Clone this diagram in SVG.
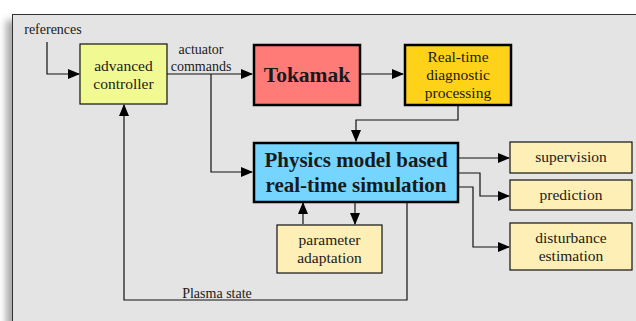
<svg xmlns="http://www.w3.org/2000/svg" width="636" height="321" viewBox="0 0 636 321">
<style>
text{font-family:'Liberation Serif','DejaVu Serif',serif;fill:#1a1a1a;text-anchor:middle}
.n{font-size:15.5px}
.s{font-size:14px}
.b{font-weight:bold}
.box{stroke:#111;stroke-width:1.2}
.thick{stroke:#000;stroke-width:2.5}
.c{fill:none;stroke:#111;stroke-width:1.2}
</style>
<defs>
<marker id="ah" markerWidth="12" markerHeight="10" refX="11" refY="5" orient="auto" markerUnits="userSpaceOnUse">
<path d="M0,0 L12,5 L0,10 Z" fill="#000"/>
</marker>
<filter id="sh" x="-10%" y="-10%" width="120%" height="120%">
<feGaussianBlur stdDeviation="3.5"/>
</filter>
</defs>
<rect x="0" y="0" width="636" height="321" fill="#fff"/>
<rect x="6" y="20" width="640" height="320" fill="#aaa" filter="url(#sh)"/>
<rect x="12.5" y="14.5" width="640" height="320" fill="#e4e4e4" stroke="#333" stroke-width="1"/>
<text x="53" y="34" class="s">references</text>
<text x="201" y="54" class="s">actuator</text>
<text x="201" y="71" class="s">commands</text>
<text x="217" y="298" class="s">Plasma state</text>
<g id="connectors">
<path class="c" d="M47,42 V74 H79" marker-end="url(#ah)"/>
<path class="c" d="M167,74 H252" marker-end="url(#ah)"/>
<path class="c" d="M211,74 V172 H252" marker-end="url(#ah)"/>
<path class="c" d="M361,74 H403" marker-end="url(#ah)"/>
<path class="c" d="M458,106 V120 H356 V141" marker-end="url(#ah)"/>
<path class="c" d="M303,224 V203" marker-end="url(#ah)"/>
<path class="c" d="M355,203 V224" marker-end="url(#ah)"/>
<path class="c" d="M407,203 V300 H124 V105" marker-end="url(#ah)"/>
<path class="c" d="M459,158 H509" marker-end="url(#ah)"/>
<path class="c" d="M459,173 H480 V196 H509" marker-end="url(#ah)"/>
<path class="c" d="M459,187 H473 V247 H509" marker-end="url(#ah)"/>
</g>
<g id="controller">
<rect class="box" x="80" y="44" width="87" height="60" fill="#f1f992"/>
<text x="123.5" y="71" class="n">advanced</text>
<text x="123.5" y="89" class="n">controller</text>
</g>
<g id="tokamak">
<rect class="thick" x="254" y="45" width="106" height="60" fill="#ff7b78"/>
<text x="307" y="82" class="b" font-size="21.5">Tokamak</text>
</g>
<g id="diagnostic">
<rect class="thick" x="405" y="45" width="106" height="60" fill="#ffd21a"/>
<text x="458" y="62" class="n">Real-time</text>
<text x="458" y="80" class="n">diagnostic</text>
<text x="458" y="98" class="n">processing</text>
</g>
<g id="simulation">
<rect class="thick" x="254" y="143" width="204" height="59" fill="#76d5ff"/>
<text x="356" y="167" class="b" font-size="21">Physics model based</text>
<text x="356" y="192" class="b" font-size="21">real-time simulation</text>
</g>
<g id="adaptation">
<rect class="box" x="277" y="225" width="105" height="48" fill="#fdefb5"/>
<text x="329.5" y="245" class="n">parameter</text>
<text x="329.5" y="263" class="n">adaptation</text>
</g>
<g id="supervision">
<rect class="box" x="510" y="142" width="122" height="31" fill="#fdefb5"/>
<text x="571" y="162" class="n">supervision</text>
</g>
<g id="prediction">
<rect class="box" x="510" y="180" width="122" height="30" fill="#fdefb5"/>
<text x="571" y="200" class="n">prediction</text>
</g>
<g id="disturbance">
<rect class="box" x="510" y="223" width="122" height="47" fill="#fdefb5"/>
<text x="571" y="243" class="n">disturbance</text>
<text x="571" y="261" class="n">estimation</text>
</g>
</svg>
